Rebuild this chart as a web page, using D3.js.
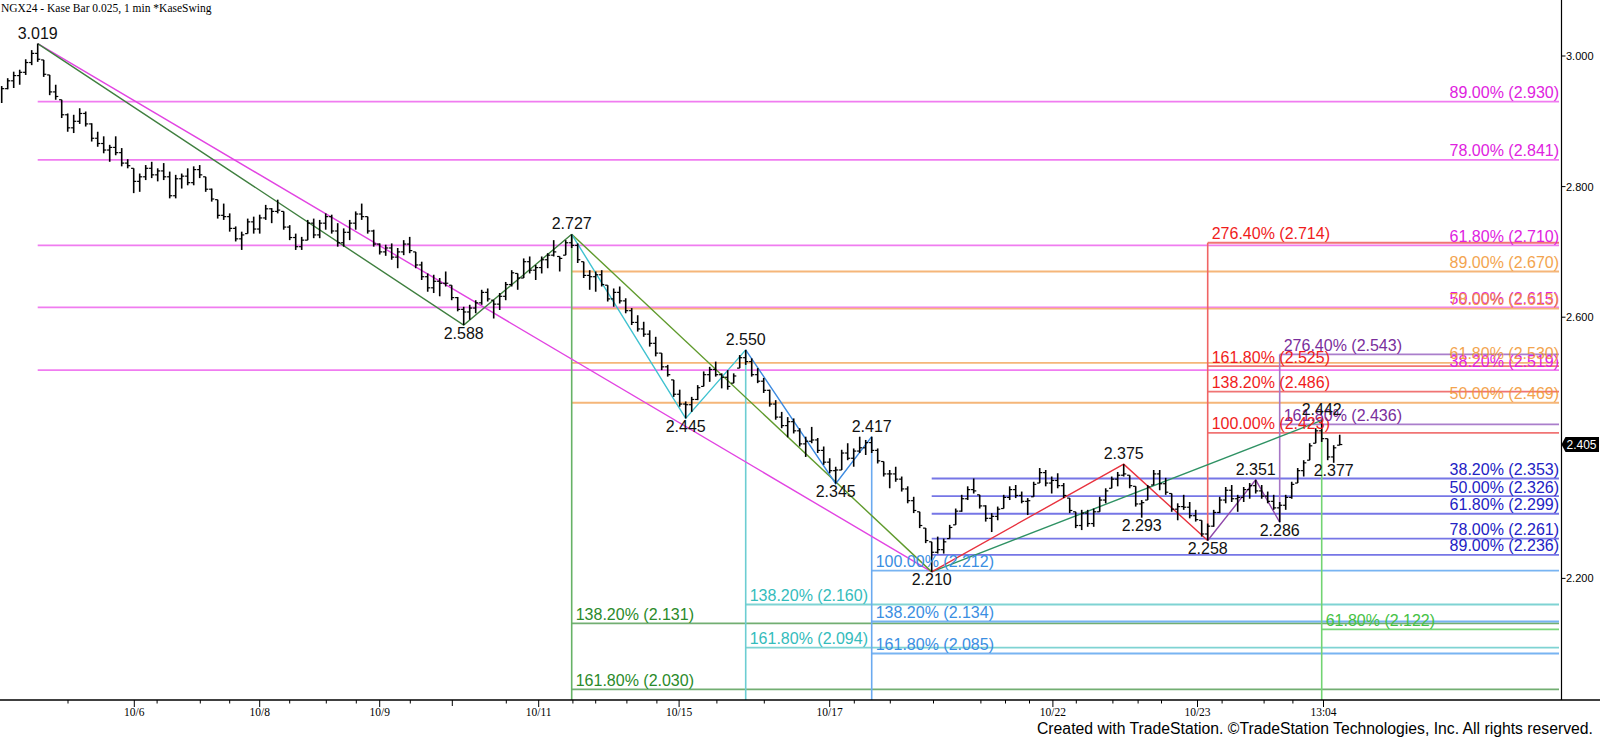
<!DOCTYPE html>
<html><head><meta charset="utf-8">
<script src="https://cdn.jsdelivr.net/npm/d3@7"></script>
<style>body{margin:0;background:#fff}svg{display:block}</style>
</head><body><svg id="c" width="1600" height="739"></svg>
<script>
// ---- DATA ----
// Kase bars: [high, low, close]
const bars = [
[2.954,2.928,2.950],[2.966,2.949,2.962],[2.976,2.951,2.970],[2.979,2.956,2.975],[2.995,2.971,2.990],
[3.009,2.986,3.004],[3.019,2.991,2.995],[2.994,2.968,2.972],[2.971,2.940,2.945],[2.956,2.933,2.938],
[2.933,2.905,2.910],[2.912,2.884,2.890],[2.910,2.882,2.900],[2.920,2.896,2.912],[2.915,2.892,2.896],
[2.897,2.869,2.874],[2.884,2.861,2.866],[2.877,2.851,2.856],[2.864,2.838,2.860],[2.877,2.848,2.852],
[2.859,2.831,2.836],[2.842,2.828,2.832],[2.828,2.790,2.808],[2.820,2.792,2.815],[2.833,2.810,2.828],
[2.838,2.813,2.818],[2.828,2.808,2.824],[2.836,2.810,2.815],[2.823,2.782,2.786],[2.818,2.782,2.812],
[2.820,2.797,2.816],[2.828,2.802,2.806],[2.831,2.802,2.826],[2.833,2.813,2.818],[2.815,2.792,2.796],
[2.797,2.777,2.781],[2.780,2.751,2.756],[2.774,2.749,2.754],[2.759,2.731,2.736],[2.739,2.716,2.720],
[2.731,2.703,2.726],[2.751,2.728,2.746],[2.754,2.728,2.735],[2.757,2.728,2.752],[2.772,2.749,2.766],
[2.767,2.744,2.762],[2.780,2.759,2.764],[2.762,2.734,2.738],[2.741,2.718,2.722],[2.728,2.703,2.708],
[2.723,2.703,2.718],[2.749,2.718,2.744],[2.751,2.721,2.726],[2.749,2.721,2.744],[2.759,2.734,2.754],
[2.757,2.728,2.732],[2.744,2.708,2.714],[2.736,2.708,2.730],[2.749,2.718,2.744],[2.762,2.734,2.758],
[2.774,2.749,2.754],[2.754,2.728,2.732],[2.734,2.708,2.712],[2.713,2.696,2.700],[2.711,2.694,2.706],
[2.713,2.688,2.692],[2.706,2.675,2.700],[2.718,2.695,2.712],[2.723,2.698,2.702],[2.700,2.675,2.680],
[2.685,2.657,2.662],[2.667,2.639,2.645],[2.665,2.637,2.655],[2.660,2.632,2.652],[2.670,2.647,2.652],
[2.649,2.626,2.630],[2.631,2.609,2.612],[2.616,2.588,2.608],[2.619,2.596,2.614],[2.626,2.606,2.622],
[2.642,2.619,2.638],[2.644,2.624,2.628],[2.626,2.598,2.620],[2.637,2.611,2.632],[2.654,2.626,2.650],
[2.672,2.647,2.668],[2.667,2.642,2.660],[2.690,2.660,2.685],[2.693,2.667,2.672],[2.680,2.657,2.676],
[2.693,2.667,2.688],[2.698,2.675,2.695],[2.718,2.693,2.700],[2.693,2.670,2.690],[2.718,2.695,2.714],
[2.727,2.706,2.710],[2.713,2.683,2.688],[2.685,2.660,2.664],[2.672,2.642,2.662],[2.670,2.639,2.665],
[2.672,2.647,2.650],[2.649,2.624,2.628],[2.644,2.616,2.638],[2.647,2.621,2.625],[2.629,2.606,2.610],
[2.614,2.588,2.592],[2.603,2.578,2.582],[2.593,2.570,2.574],[2.580,2.555,2.560],[2.570,2.540,2.545],
[2.545,2.519,2.524],[2.527,2.509,2.512],[2.504,2.478,2.482],[2.489,2.463,2.467],[2.471,2.445,2.466],
[2.478,2.455,2.474],[2.496,2.473,2.492],[2.517,2.494,2.512],[2.524,2.501,2.520],[2.532,2.509,2.512],
[2.514,2.491,2.508],[2.519,2.489,2.494],[2.514,2.499,2.510],[2.542,2.522,2.538],[2.550,2.527,2.532],
[2.537,2.509,2.512],[2.522,2.499,2.502],[2.507,2.484,2.488],[2.489,2.463,2.467],[2.473,2.443,2.447],
[2.455,2.430,2.434],[2.447,2.416,2.440],[2.445,2.422,2.426],[2.430,2.402,2.406],[2.417,2.386,2.410],
[2.432,2.407,2.412],[2.415,2.392,2.396],[2.402,2.374,2.378],[2.384,2.361,2.365],[2.371,2.345,2.366],
[2.397,2.366,2.392],[2.407,2.381,2.384],[2.399,2.371,2.395],[2.417,2.392,2.400],[2.412,2.389,2.408],
[2.417,2.392,2.396],[2.399,2.376,2.380],[2.379,2.356,2.360],[2.366,2.338,2.360],[2.371,2.348,2.352],
[2.356,2.333,2.337],[2.341,2.315,2.319],[2.325,2.300,2.304],[2.302,2.277,2.281],[2.277,2.254,2.258],
[2.256,2.210,2.240],[2.264,2.238,2.244],[2.261,2.238,2.256],[2.282,2.261,2.278],[2.307,2.282,2.303],
[2.328,2.302,2.322],[2.341,2.320,2.336],[2.353,2.330,2.334],[2.328,2.307,2.311],[2.312,2.287,2.292],
[2.300,2.271,2.295],[2.310,2.289,2.306],[2.328,2.307,2.324],[2.341,2.320,2.336],[2.343,2.323,2.327],
[2.333,2.315,2.318],[2.323,2.297,2.319],[2.348,2.325,2.344],[2.369,2.346,2.362],[2.366,2.341,2.346],
[2.356,2.330,2.350],[2.361,2.338,2.342],[2.346,2.323,2.327],[2.323,2.300,2.304],[2.302,2.277,2.281],
[2.305,2.274,2.300],[2.305,2.279,2.284],[2.307,2.279,2.302],[2.325,2.302,2.320],[2.338,2.315,2.334],
[2.356,2.338,2.352],[2.363,2.341,2.358],[2.375,2.356,2.360],[2.358,2.338,2.342],[2.341,2.310,2.314],
[2.320,2.293,2.316],[2.343,2.320,2.340],[2.366,2.343,2.360],[2.366,2.335,2.345],[2.354,2.328,2.332],
[2.330,2.302,2.306],[2.315,2.289,2.310],[2.328,2.305,2.309],[2.317,2.292,2.296],[2.305,2.287,2.290],
[2.289,2.264,2.268],[2.284,2.258,2.280],[2.305,2.279,2.301],[2.325,2.300,2.320],[2.340,2.315,2.335],
[2.343,2.317,2.322],[2.328,2.302,2.324],[2.340,2.317,2.336],[2.346,2.322,2.342],[2.351,2.330,2.334],
[2.343,2.322,2.326],[2.333,2.315,2.318],[2.328,2.305,2.308],[2.317,2.286,2.312],[2.328,2.305,2.324],
[2.348,2.322,2.344],[2.369,2.346,2.365],[2.381,2.356,2.377],[2.407,2.381,2.403],[2.430,2.407,2.426],
[2.442,2.409,2.414],[2.414,2.381,2.386],[2.404,2.377,2.400],[2.420,2.404,2.405]
];

// swing points: [barIndex, price, side]
const swings = [
[6,3.019,"hi"],[77,2.588,"lo"],[95,2.727,"hi"],[114,2.445,"lo"],[124,2.550,"hi"],
[139,2.345,"lo"],[145,2.417,"hi"],[155,2.210,"lo"],[187,2.375,"hi"],[190,2.293,"lo"],
[201,2.258,"lo"],[209,2.351,"hi"],[213,2.286,"lo"],[220,2.442,"hi"],[222,2.377,"lo"]
];

// zigzag paths (bar index, price)
const zzDarkGreen = [[6,3.019],[77,2.588],[95,2.727]];
const zzOlive = [[95,2.727],[155,2.210]];
const zzSeaGreen = [[155,2.210],[220,2.442]];
const zzMagenta = [[6,3.019],[155,2.210]];
const zzCyan = [[95,2.727],[114,2.445],[124,2.550]];
const zzBlue = [[124,2.550],[139,2.345],[145,2.417]];
const zzRed = [[155,2.210],[187,2.375],[201,2.258]];
const zzPurple = [[201,2.258],[209,2.351],[213,2.286]];

// level sets: [percent label, price]
const magentaLevels = [["89.00%",2.930],["78.00%",2.841],["61.80%",2.710],["50.00%",2.615],["38.20%",2.519]];
const orangeLevels = [["89.00%",2.670],["78.00%",2.613],["61.80%",2.530],["50.00%",2.469]];
const redLevels = [["276.40%",2.714],["161.80%",2.525],["138.20%",2.486],["100.00%",2.423]];
const purpleLevels = [["276.40%",2.543],["161.80%",2.436]];
const navyLevels = [["38.20%",2.353],["50.00%",2.326],["61.80%",2.299],["78.00%",2.261],["89.00%",2.236]];
const lightBlueLevels = [["100.00%",2.212],["138.20%",2.134],["161.80%",2.085]];
const cyanLevels = [["138.20%",2.160],["161.80%",2.094]];
const greenLevels = [["138.20%",2.131],["161.80%",2.030]];
const lightGreenLevels = [["61.80%",2.122]];

// x axis ticks (bar index positions)
const xMinorTicks = [11.05,25.9,33.1,38.0,48.0,54.1,59.1,68.1,84.1,95.2,99.0,104.2,109.2,119.2,127.1,
  142.1,148.1,155.3,163.2,167.3,171.3,179.1,185.2,189.4,193.3,203.4,210.4,215.2];
const xMidTicks = [75.1];
const xMajorTicks = [22.1,43.0,63.0,89.5,112.9,138.0,175.2,199.3,220.3];
const xTickLabels = ["10/6","10/8","10/9","10/11","10/15","10/17","10/22","10/23","13:04"];
const yTicks = [3.0,2.8,2.6,2.2];
const lastPrice = 2.405;
const title = "NGX24 - Kase Bar 0.025, 1 min  *KaseSwing";
const footer = "Created with TradeStation. \u00A9TradeStation Technologies, Inc. All rights reserved.";

// ---- CHART ----
const svg = d3.select("#c");
const x = d3.scaleLinear().domain([0,223]).range([1.7,1339.7]);
const y = d3.scaleLinear().domain([2.2,3.0]).range([578.4,56]);
const R = 1559, AX = 1561.5, AY = 700;
const F = "'Liberation Sans', Arial, sans-serif";

const gLines = svg.append("g"), gZig = svg.append("g"), gBars = svg.append("g"), gText = svg.append("g");

function levels(arr, start, lc, tc, align, op) {
  arr.forEach(([pct, v]) => {
    gLines.append("line").attr("x1", x(start)).attr("x2", R)
      .attr("y1", y(v)).attr("y2", y(v)).attr("stroke", lc).attr("stroke-width", 1.8);
    const t = gText.append("text").attr("font-family", F).attr("font-size", 16)
      .attr("fill", tc).attr("y", y(v) - 3.5).text(`${pct} (${v.toFixed(3)})`);
    if (op) t.attr("opacity", op);
    if (align === "right") t.attr("x", R).attr("text-anchor", "end");
    else t.attr("x", x(start) + 4);
  });
}
levels(magentaLevels, 6, "#f07cf0", "#e022e0", "right");
levels(orangeLevels, 95, "#f5b679", "#f29530", "right", 0.85);
levels(navyLevels, 155, "#7676e6", "#2222c4", "right");
levels(greenLevels, 95, "#72ae72", "#2a8a2a", "left");
levels(cyanLevels, 124, "#7fd3d3", "#34bcbc", "left");
levels(lightBlueLevels, 145, "#78b4f2", "#3a8ee2", "left");
levels(lightGreenLevels, 220, "#7ad67a", "#44c244", "left");
levels(redLevels, 201, "#f07474", "#f01c1c", "left");
levels(purpleLevels, 213, "#aa7ecb", "#7a2e9c", "left");

// vertical projection lines
function vline(i, p1, p2, c) {
  gLines.append("line").attr("x1", x(i)).attr("x2", x(i))
    .attr("y1", y(p1)).attr("y2", p2 === null ? AY : y(p2)).attr("stroke", c).attr("stroke-width", 1.6);
}
vline(95, 2.727, null, "#66b266");
vline(124, 2.550, null, "#6ccdd2");
vline(145, 2.417, null, "#6aaaf0");
vline(201, 2.258, 2.714, "#f06464");
vline(213, 2.286, 2.543, "#a676c6");
vline(220, 2.442, null, "#72d472");

// zigzags
const lineGen = d3.line().x(d => x(d[0])).y(d => y(d[1]));
[[zzMagenta,"#e244e2"],[zzDarkGreen,"#3f7f3f"],[zzOlive,"#5f9a2c"],[zzSeaGreen,"#2f9264"],
 [zzCyan,"#3fc2d0"],[zzBlue,"#3c8ae0"],[zzRed,"#e8323e"],[zzPurple,"#9048aa"]].forEach(([d,c]) => {
  gZig.append("path").attr("d", lineGen(d)).attr("fill","none").attr("stroke", c).attr("stroke-width", 1.4);
});

// bars
bars.forEach(([h,l,c], i) => {
  const xi = x(i);
  gBars.append("line").attr("x1", xi).attr("x2", xi).attr("y1", y(h)).attr("y2", y(l))
    .attr("stroke", "#000").attr("stroke-width", 1.6);
  if (i > 0) {
    const o = Math.max(l, Math.min(h, bars[i-1][2]));
    gBars.append("line").attr("x1", xi - 2.6).attr("x2", xi).attr("y1", y(o)).attr("y2", y(o))
      .attr("stroke", "#000").attr("stroke-width", 1.2);
  }
  gBars.append("line").attr("x1", xi).attr("x2", xi + 2.6).attr("y1", y(c)).attr("y2", y(c))
    .attr("stroke", "#000").attr("stroke-width", 1.2);
});

// swing labels
swings.forEach(([i, p, side]) => {
  gText.append("text").attr("font-family", F).attr("font-size", 16).attr("fill", "#111")
    .attr("text-anchor", "middle").attr("x", x(i))
    .attr("y", side === "hi" ? y(p) - 5 : y(p) + 13.5).text(p.toFixed(3));
});

// axes
svg.append("line").attr("x1", 0).attr("x2", 1600).attr("y1", AY).attr("y2", AY).attr("stroke", "#000").attr("stroke-width", 1.4);
svg.append("line").attr("x1", AX).attr("x2", AX).attr("y1", 0).attr("y2", AY).attr("stroke", "#000").attr("stroke-width", 1.2);
xMinorTicks.forEach(t => svg.append("line").attr("x1", x(t)).attr("x2", x(t)).attr("y1", AY).attr("y2", AY + 3.5).attr("stroke", "#000"));
xMidTicks.forEach(t => svg.append("line").attr("x1", x(t)).attr("x2", x(t)).attr("y1", AY).attr("y2", AY + 6).attr("stroke", "#000"));
xMajorTicks.forEach((t, k) => {
  svg.append("line").attr("x1", x(t)).attr("x2", x(t)).attr("y1", AY).attr("y2", AY + 7).attr("stroke", "#000");
  svg.append("text").attr("font-family", "'Liberation Serif', 'Times New Roman', serif").attr("font-size", 11.5)
    .attr("text-anchor", "middle").attr("x", x(t)).attr("y", AY + 16).attr("fill", "#000").text(xTickLabels[k]);
});
yTicks.forEach(v => {
  svg.append("line").attr("x1", AX).attr("x2", AX + 4).attr("y1", y(v)).attr("y2", y(v)).attr("stroke", "#000");
  svg.append("text").attr("font-family", F).attr("font-size", 11).attr("x", AX + 4.5).attr("y", y(v) + 4)
    .attr("fill", "#000").text(v.toFixed(3));
});
// last price marker
const yl = y(lastPrice);
svg.append("path").attr("d", `M${AX},${yl} L${AX+4},${yl-7.5} L1599,${yl-7.5} L1599,${yl+7.5} L${AX+4},${yl+7.5} Z`).attr("fill", "#000");
svg.append("text").attr("font-family", F).attr("font-size", 12).attr("x", AX + 5).attr("y", yl + 4.5)
  .attr("fill", "#fff").text(lastPrice.toFixed(3));

// title & footer
svg.append("text").attr("font-family", "'Liberation Serif', 'Times New Roman', serif").attr("font-size", 11.5)
  .attr("x", 1).attr("y", 12).attr("fill", "#000").text(title);
svg.append("text").attr("font-family", F).attr("font-size", 16).attr("x", 1037).attr("y", 734)
  .attr("textLength", 556).attr("lengthAdjust", "spacingAndGlyphs").attr("fill", "#000").text(footer);
</script></body></html>
